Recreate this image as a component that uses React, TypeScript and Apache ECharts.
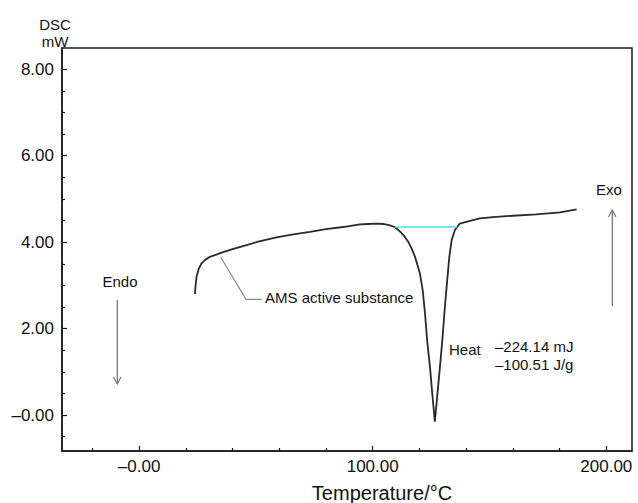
import React, { useEffect, useRef } from "react";
import * as echarts from "echarts";

const tempC = [23.9, 24.2, 24.6, 25.5, 26.7, 28.3, 30.3, 33, 36, 40, 44.5, 51, 58.8, 66, 73.1, 80, 87.4, 94.5, 98, 101.7, 104.5, 107.4, 109.5, 111.6, 113.4, 115.2, 116.7, 118.1, 120.2, 121.4, 122.4, 123.3, 124.5, 125.5, 126.6, 127.6, 128.8, 129.8, 130.9, 131.9, 132.8, 133.8, 135.2, 137.3, 141.6, 145.9, 151.6, 160, 170, 180.2, 187.3];
const dscMW = [2.8, 3.0, 3.2, 3.38, 3.51, 3.59, 3.66, 3.71, 3.77, 3.84, 3.91, 4.01, 4.11, 4.18, 4.24, 4.3, 4.35, 4.41, 4.42, 4.43, 4.42, 4.39, 4.35, 4.25, 4.15, 4.01, 3.85, 3.66, 3.28, 2.89, 2.35, 1.73, 1.12, 0.5, -0.15, 0.42, 1.12, 1.73, 2.5, 3.12, 3.66, 4.05, 4.28, 4.43, 4.49, 4.55, 4.58, 4.61, 4.64, 4.69, 4.76];
const baselineT = [109.5, 136.2];
const baselineY = [4.35, 4.35];

const xMajor = [0, 100, 200];
const xMinor = [-20, 20, 40, 60, 80, 120, 140, 160, 180];
const yMajor = [0, 2, 4, 6, 8];
const yMinor = [-0.5, 0.5, 1, 1.5, 2.5, 3, 3.5, 4.5, 5, 5.5, 6.5, 7, 7.5];

const FONT = '"Liberation Sans", Arial, Helvetica, sans-serif';
const fmt = (v: number) => (v === 0 ? "\u20130.00" : v.toFixed(2));

export default function App() {
  const ref = useRef<HTMLDivElement>(null);
  useEffect(() => {
    if (!ref.current) return;
    const chart = echarts.init(ref.current, undefined, { renderer: "svg" });
    const axisLine = { show: true, onZero: false, lineStyle: { color: "#1a1a1a", width: 1.5 } };
    const noLine = { show: false, onZero: false };
    const xBase = { type: "value", min: -33, max: 211, splitLine: { show: false } };
    const yBase = { type: "value", min: -0.83, max: 8.49, splitLine: { show: false } };
    chart.setOption({
      animation: false,
      backgroundColor: "#fff",
      grid: { left: 62, right: 6, top: 48, bottom: 52, show: true, borderColor: "#1a1a1a", borderWidth: 1.5, backgroundColor: "transparent" },
      xAxis: [
        {
          ...xBase,
          position: "bottom",
          axisLine,
          axisTick: { show: true, inside: true, length: 5, customValues: xMajor, lineStyle: { color: "#1a1a1a", width: 1.2 } },
          axisLabel: { show: true, customValues: xMajor, formatter: fmt, color: "#111", fontSize: 17, fontFamily: FONT, margin: 7 },
        },
        {
          ...xBase,
          position: "bottom",
          axisLine: noLine,
          axisTick: { show: true, inside: true, length: 3, customValues: xMinor, lineStyle: { color: "#1a1a1a", width: 1.2 } },
          axisLabel: { show: false },
        },
      ],
      yAxis: [
        {
          ...yBase,
          position: "left",
          axisLine,
          axisTick: { show: true, inside: true, length: 5, customValues: yMajor, lineStyle: { color: "#1a1a1a", width: 1.2 } },
          axisLabel: { show: true, customValues: yMajor, formatter: fmt, color: "#111", fontSize: 17, fontFamily: FONT, margin: 8 },
        },
        {
          ...yBase,
          position: "left",
          axisLine: noLine,
          axisTick: { show: true, inside: true, length: 3, customValues: yMinor, lineStyle: { color: "#1a1a1a", width: 1.2 } },
          axisLabel: { show: false },
        },
      ],
      series: [
        {
          type: "line",
          xAxisIndex: 0,
          yAxisIndex: 0,
          showSymbol: false,
          smooth: false,
          lineStyle: { color: "#2a2a2a", width: 1.8 },
          data: tempC.map((t, i) => [t, dscMW[i]]),
        },
        {
          type: "line",
          xAxisIndex: 0,
          yAxisIndex: 0,
          showSymbol: false,
          lineStyle: { color: "#3fe3ee", width: 1.5 },
          data: baselineT.map((t, i) => [t, baselineY[i]]),
        },
      ],
      graphic: [
        { type: "text", x: 55, y: 24, style: { text: "DSC", font: `15px ${FONT}`, fill: "#111", align: "center", verticalAlign: "middle" } },
        { type: "text", x: 55, y: 41, style: { text: "mW", font: `15px ${FONT}`, fill: "#111", align: "center", verticalAlign: "middle" } },
        { type: "text", x: 382, y: 493, style: { text: "Temperature/°C", font: `20px ${FONT}`, fill: "#111", align: "center", verticalAlign: "middle" } },
        { type: "text", x: 120, y: 281, style: { text: "Endo", font: `15px ${FONT}`, fill: "#111", align: "center", verticalAlign: "middle" } },
        { type: "line", shape: { x1: 117.3, y1: 300, x2: 117.3, y2: 384 }, style: { stroke: "#7a7a7a", lineWidth: 1.3 } },
        { type: "polyline", shape: { points: [[113.5, 377], [117.3, 384], [121, 377]] }, style: { stroke: "#7a7a7a", lineWidth: 1.2, fill: "none" } },
        { type: "text", x: 609, y: 189, style: { text: "Exo", font: `15px ${FONT}`, fill: "#111", align: "center", verticalAlign: "middle" } },
        { type: "line", shape: { x1: 612.3, y1: 210, x2: 612.3, y2: 306 }, style: { stroke: "#7a7a7a", lineWidth: 1.3 } },
        { type: "polyline", shape: { points: [[608.5, 217], [612.3, 210], [616, 217]] }, style: { stroke: "#7a7a7a", lineWidth: 1.2, fill: "none" } },
        { type: "polyline", shape: { points: [[220.7, 257.3], [246, 299.3], [261.7, 299.3]] }, style: { stroke: "#8a8a8a", lineWidth: 1.2, fill: "none" } },
        { type: "text", x: 265, y: 297, style: { text: "AMS active substance", font: `15px ${FONT}`, fill: "#111", align: "left", verticalAlign: "middle" } },
        { type: "text", x: 449, y: 349, style: { text: "Heat", font: `15px ${FONT}`, fill: "#111", align: "left", verticalAlign: "middle" } },
        { type: "text", x: 495, y: 346, style: { text: "\u2013224.14 mJ", font: `15px ${FONT}`, fill: "#111", align: "left", verticalAlign: "middle" } },
        { type: "text", x: 495, y: 364, style: { text: "\u2013100.51 J/g", font: `15px ${FONT}`, fill: "#111", align: "left", verticalAlign: "middle" } },
      ],
    });
    return () => chart.dispose();
  }, []);
  return <div ref={ref} style={{ position: "fixed", left: 0, top: 0, width: 638, height: 503, background: "#fff" }} />;
}
